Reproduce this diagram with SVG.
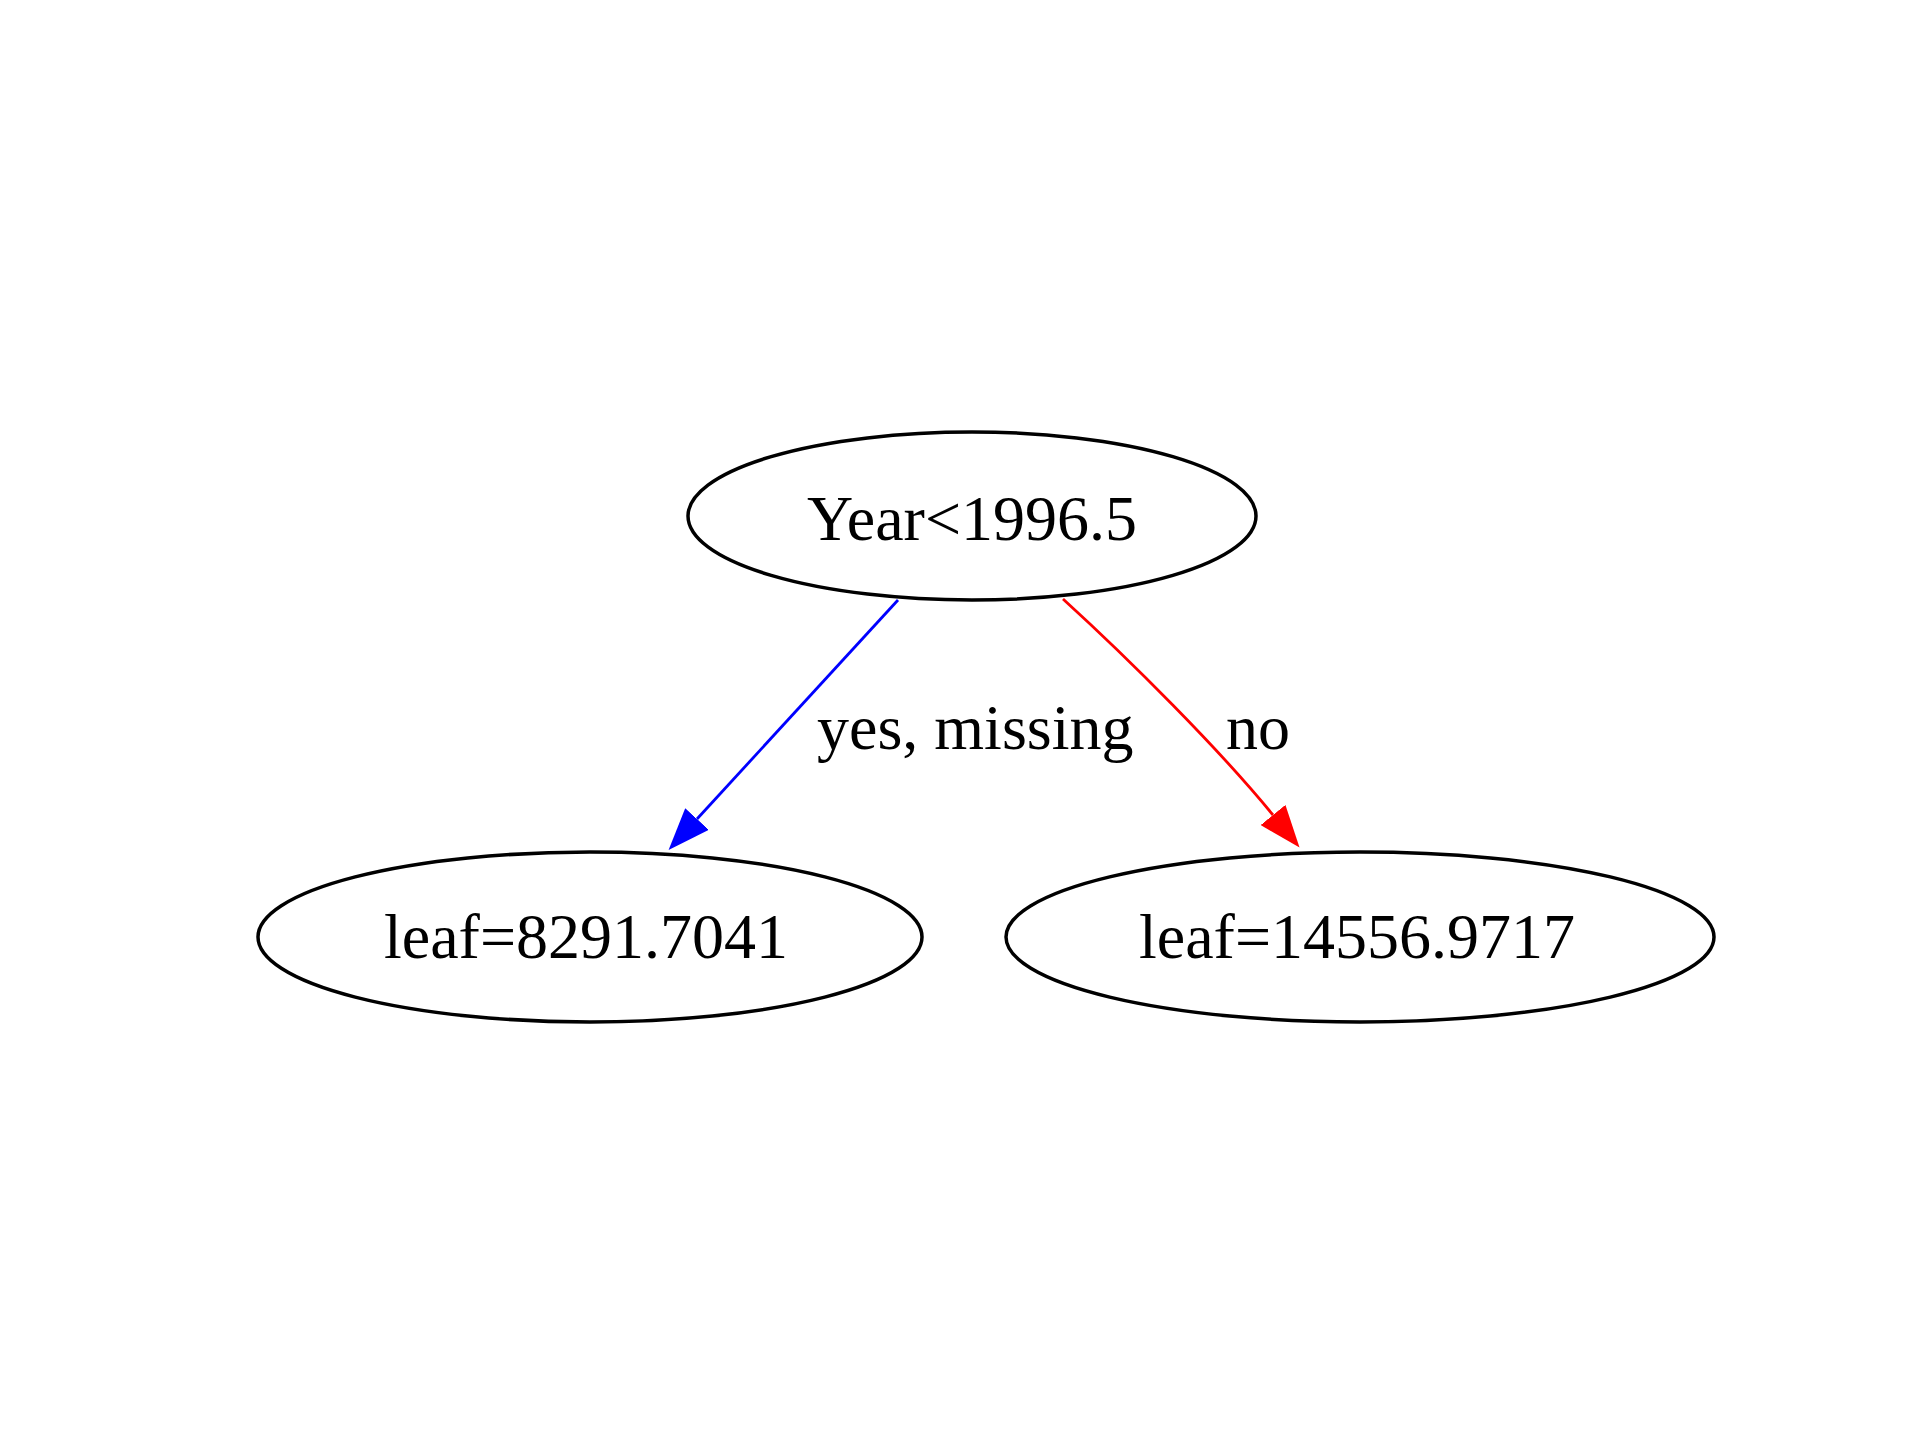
<svg xmlns="http://www.w3.org/2000/svg" width="1920" height="1440" viewBox="0 0 1920 1440">
<style>
.node ellipse{fill:none;stroke:#000;stroke-width:3.5}
text{font-family:"Liberation Serif","Times New Roman",serif;font-size:64px;fill:#000}
.c{text-anchor:middle}
.e{fill:none;stroke-width:2.8}
</style>
<defs>
<marker id="ab" markerUnits="userSpaceOnUse" markerWidth="44" markerHeight="32" refX="0" refY="16" orient="auto" viewBox="0 0 44 32"><path d="M0,0 L42,16 L0,32 Z" fill="#0000ff"/></marker>
<marker id="ar" markerUnits="userSpaceOnUse" markerWidth="44" markerHeight="32" refX="0" refY="16" orient="auto" viewBox="0 0 44 32"><path d="M0,0 L42,16 L0,32 Z" fill="#ff0000"/></marker>
</defs>
<rect width="1920" height="1440" fill="#fff"/>
<g id="edges">
<path class="e" d="M898,600 L697,819" stroke="#0000ff" marker-end="url(#ab)"/>
<text x="817" y="749">yes, missing</text>
<path class="e" d="M1063,599 C1130,660 1220,750 1273,815" stroke="#ff0000" marker-end="url(#ar)"/>
<text x="1226" y="749">no</text>
</g>
<g id="n0" class="node">
<ellipse cx="972" cy="516" rx="284" ry="84"/>
<text class="c" x="972" y="540">Year&lt;1996.5</text>
</g>
<g id="n1" class="node">
<ellipse cx="590" cy="937" rx="332" ry="85"/>
<text class="c" x="586" y="958">leaf=8291.7041</text>
</g>
<g id="n2" class="node">
<ellipse cx="1360" cy="937" rx="354" ry="85"/>
<text class="c" x="1357" y="958">leaf=14556.9717</text>
</g>
</svg>
